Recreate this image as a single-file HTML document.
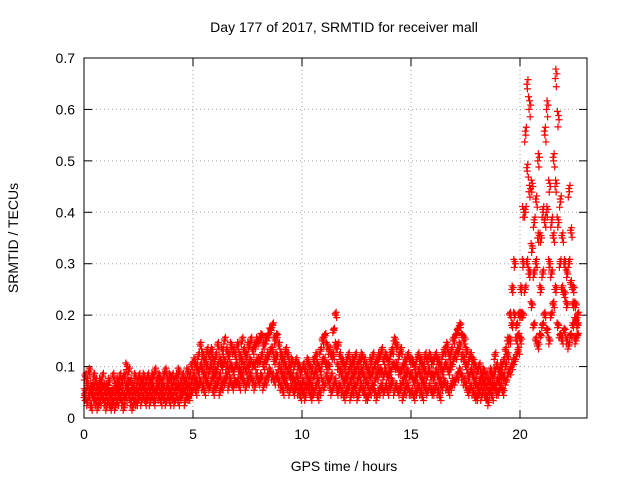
<!DOCTYPE html>
<html><head><meta charset="utf-8"><style>
body{margin:0;background:#fff}
svg text{font-family:"Liberation Sans",sans-serif;font-size:14px;fill:#000}
</style></head><body>
<svg id="chart" width="640" height="480" xmlns="http://www.w3.org/2000/svg">
<rect width="640" height="480" fill="#fff"/>
<text x="344" y="32" text-anchor="middle">Day 177 of 2017, SRMTID for receiver mall</text>
<text x="344" y="471" text-anchor="middle">GPS time / hours</text>
<text transform="translate(18,238) rotate(-90)" text-anchor="middle">SRMTID / TECUs</text>
<g id="grid"></g>
<g id="ticks"></g>
<g id="marks"></g>
<rect x="84" y="58" width="503" height="360" fill="none" stroke="#000" stroke-width="1"/>
</svg>
<script>
const xTicks=[0,5,10,15,20];
const yTicks=[0,0.1,0.2,0.3,0.4,0.5,0.6,0.7];
const yTickLabels=["0","0.1","0.2","0.3","0.4","0.5","0.6","0.7"];
const timeStep=0.1;
const seriesLow=[4,3,5,2,4,3,2,3,4,3, 2,3,2,3,2,3,4,3,2,4, 5,3,2,3,3,4,3,4,3,4, 3,4,3,5,4,3,4,3,4,3, 4,3,4,3,4,5,3,4,4,5,
6,5,6,7,6,5,7,6,7,5, 6,7,5,6,7,8,6,7,6,7, 7,6,8,7,6,7,8,7,6,8, 7,8,6,7,8,9,8,7,8,7, 6,5,7,6,5,6,5,6,5,4,
5,4,6,5,4,5,6,4,5,7, 6,8,7,5,6,7,5,6,5,4, 5,6,4,5,6,4,5,6,5,4, 4,5,6,5,4,5,6,5,6,5, 6,7,5,6,5,6,4,5,6,5,
5,4,5,6,5,4,6,5,6,5, 5,6,5,4,6,7,6,5,6,7, 7,8,9,8,7,6,5,6,5,4, 4,5,4,5,4,3,5,4,6,5, 5,6,5,7,8,9,10,11,12,13,
15,20,25,30,28,22,18,15,14,16, 18,20,17,15,20,22,25,18,16,15, 17,15,14,16,18,15,16];
const seriesHigh=[8,7,9,6,8,7,6,7,8,6, 6,7,5,8,6,7,8,7,8,10, 9,7,6,8,7,8,7,8,7,8, 7,8,9,7,8,7,8,9,7,8, 8,7,8,9,7,8,7,9,8,10,
11,10,12,14,12,11,13,12,13,11, 12,14,11,13,15,13,12,14,13,12, 14,12,15,13,12,14,15,13,14,15, 15,16,14,15,16,17,18,15,16,14, 12,11,13,12,10,11,10,11,10,9,
10,9,11,10,9,11,12,10,13,15, 16,14,13,12,17,20,14,12,11,10, 11,12,10,11,12,10,11,12,11,10, 9,11,12,10,11,12,13,11,12,11, 12,13,15,14,12,13,10,11,12,11,
11,10,11,12,11,10,12,11,12,11, 11,12,11,10,12,13,14,12,13,15, 16,17,18,16,15,13,11,12,11,10, 9,10,8,9,8,7,9,8,12,10, 9,10,11,13,15,20,25,30,18,20,
25,40,55,64,60,45,38,42,50,35, 40,55,60,45,38,50,66,58,42,35, 30,28,44,36,25,22,20];
const seriesMid=[5,6,4,5,6,5,4,5,6,5, 4,5,4,5,4,5,6,5,4,6, 7,5,4,5,5,6,5,6,5,6, 5,6,5,6,6,5,6,5,6,5, 6,5,6,6,5,6,5,6,6,7,
8,7,9,10,9,8,10,9,10,8, 9,10,8,10,11,10,9,10,9,10, 10,9,11,10,9,10,11,10,10,11, 11,12,10,11,12,13,13,11,12,10, 9,8,10,9,8,8,7,8,7,6,
7,6,8,7,6,8,9,7,9,11, 11,10,10,8,12,14,10,9,8,7, 8,9,7,8,9,7,8,9,8,7, 6,8,9,7,8,9,9,8,9,8, 9,10,10,10,9,9,7,8,9,8,
8,7,8,9,8,7,9,8,9,8, 8,9,8,7,9,10,10,9,10,11, 12,13,14,12,11,10,8,9,8,7, 6,7,6,7,6,5,7,6,9,7, 7,8,8,10,12,15,18,20,15,16,
20,30,40,48,44,33,28,30,35,25, 28,38,40,30,28,35,45,38,30,25, 24,22,30,26,22,19,18];
const NS="http://www.w3.org/2000/svg";
const X0=84,X1=587,Y0=418,Y1=58,XMAX=(587-84)/21.8;
function xs(t){return X0+t/XMAX*(X1-X0);}
function ys(v){return Y0-v/0.7*(Y0-Y1);}
const grid=document.getElementById('grid'),ticks=document.getElementById('ticks'),marks=document.getElementById('marks');
function line(p,x1,y1,x2,y2,st,dash){const l=document.createElementNS(NS,'line');l.setAttribute('x1',x1);l.setAttribute('y1',y1);l.setAttribute('x2',x2);l.setAttribute('y2',y2);l.setAttribute('stroke',st);if(dash)l.setAttribute('stroke-dasharray',dash);p.appendChild(l);return l;}
function txt(p,x,y,s,anc){const t=document.createElementNS(NS,'text');t.setAttribute('x',x);t.setAttribute('y',y);t.setAttribute('text-anchor',anc);t.textContent=s;p.appendChild(t);return t;}
yTicks.forEach((v,i)=>{const y=ys(v);
 if(i>0&&i<yTicks.length-1){const g=line(grid,X0,y,X1,y,'#a0a0a0','1,3');
 
 }
 line(ticks,X0,y,X0+8,y,'#000');line(ticks,X1,y,X1-8,y,'#000');
 const t=txt(ticks,X0-9,y+5,yTickLabels[i],'end');
 
 });
xTicks.forEach((v,i)=>{const x=xs(v);
 if(i>0){const g=line(grid,x,Y1,x,Y0,'#a0a0a0','1,3');
 
 }
 line(ticks,x,Y0,x,Y0-8,'#000');line(ticks,x,Y1,x,Y1+8,'#000');
 const t=txt(ticks,x,Y0+21,String(v),'middle');
 
 });
let d='';
const jitter=[0,0.7,-0.6,0.35];
[seriesLow,seriesMid,seriesHigh].forEach((arr,si)=>{
 arr.forEach((v,i)=>{
  for(let k=0;k<4;k++){
   const mult=v>15?(1+jitter[(k+i)%4]*0.04):1;
   const val=(v*mult+(v>15?0:jitter[(k+i+si)%4]))/100;
   const x=xs(i*timeStep+k*0.025+si*0.008),y=ys(Math.max(0.015,val));
   d+=`M${x-3.5},${y}h7M${x},${y-3.5}v7`;
  }
 });
});
const p=document.createElementNS(NS,'path');p.setAttribute('d',d);p.setAttribute('stroke','#f00');p.setAttribute('stroke-width','1.2');p.setAttribute('fill','none');


marks.appendChild(p);
</script>
</body></html>
